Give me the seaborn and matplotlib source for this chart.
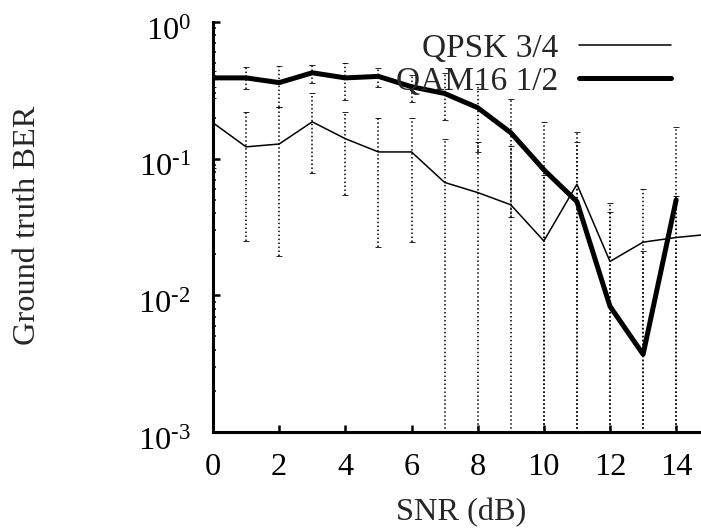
import numpy as np
import pandas as pd
import matplotlib
matplotlib.use("Agg")
import matplotlib.pyplot as plt
from matplotlib.ticker import LogLocator, FixedLocator, FuncFormatter, NullFormatter
from matplotlib.transforms import ScaledTranslation
import seaborn as sns

# ---- data ----
snr_qpsk = [0, 1, 2, 3, 4, 5, 6, 7, 8, 9, 10, 11, 12, 13, 14, 15]
ber_qpsk = [0.183, 0.122, 0.128, 0.186, 0.140, 0.112, 0.112, 0.067, 0.0565,
            0.046, 0.025, 0.065, 0.0177, 0.0245, 0.0265, 0.028]
hi_qpsk = [0.28, 0.22, 0.24, 0.303, 0.22, 0.199, 0.199, 0.14, 0.133,
           0.124, 0.076, 0.133, 0.041, 0.060, 0.053, 0.055]
lo_qpsk = [0.086, 0.025, 0.0193, 0.078, 0.0546, 0.0224, 0.0244, -0.006, -0.02,
           -0.032, -0.026, -0.003, -0.006, -0.011, 0.0, 0.001]

snr_qam = [0, 1, 2, 3, 4, 5, 6, 7, 8, 9, 10, 11, 12, 13, 14]
ber_qam = [0.39, 0.39, 0.36, 0.425, 0.39, 0.40, 0.336, 0.30, 0.236,
           0.155, 0.083, 0.0485, 0.0083, 0.0037, 0.050]
hi_qam = [0.439, 0.47, 0.477, 0.485, 0.502, 0.462, 0.41, 0.425, 0.353,
          0.274, 0.186, 0.157, 0.047, 0.021, 0.171]
lo_qam = [0.336, 0.324, 0.24, 0.359, 0.27, 0.336, 0.261, 0.193, 0.112,
          0.0377, -0.02, -0.06, -0.03, -0.014, -0.07]

labels = ["QPSK 3/4", "QAM16 1/2"]
xticks = [0, 2, 4, 6, 8, 10, 12, 14]
yticks = [1e-3, 1e-2, 1e-1, 1e0]

# ---- style ----
sns.set_theme(style="ticks")
plt.rcParams["font.family"] = ["Liberation Serif", "DejaVu Serif"]
plt.rcParams["mathtext.fontset"] = "custom"
plt.rcParams["mathtext.rm"] = "Liberation Serif"
plt.rcParams["mathtext.it"] = "Liberation Serif:italic"
plt.rcParams["mathtext.bf"] = "Liberation Serif:bold"
FS = 23.3
FS_LEG = 24

fig = plt.figure(figsize=(7.01, 5.31), dpi=100)
ax = fig.add_axes([213 / 701, 99 / 531, 488 / 701, 410 / 531])

df_qpsk = pd.DataFrame({"snr": snr_qpsk, "ber": ber_qpsk})
df_qam = pd.DataFrame({"snr": snr_qam, "ber": ber_qam})

# error bars (dotted)
for x, m, lo, hi in [(snr_qpsk, ber_qpsk, lo_qpsk, hi_qpsk),
                     (snr_qam, ber_qam, lo_qam, hi_qam)]:
    m = np.array(m)
    lo = np.clip(np.array(lo), 1e-6, None)
    hi = np.array(hi)
    eb = ax.errorbar(x, m, yerr=[m - lo, hi - m], fmt="none", ecolor="black",
                     elinewidth=1.1, capsize=2, capthick=0.6, zorder=2)
    for lc in eb[2]:
        lc.set_linestyle((0, (1, 1.6)))
    for cap in eb[1]:
        cap.set_color("#555555")

sns.lineplot(data=df_qpsk, x="snr", y="ber", color="black", linewidth=1.1,
             label=labels[0], ax=ax, zorder=3)
sns.lineplot(data=df_qam, x="snr", y="ber", color="black", linewidth=3.6,
             label=labels[1], ax=ax, zorder=4)

ax.set_yscale("log")
ax.set_ylim(1e-3, 1e0)
ax.set_xlim(0, 14.75)

ax.xaxis.set_major_locator(FixedLocator(xticks))
ax.set_xticklabels([str(t) for t in xticks])
ax.yaxis.set_major_locator(FixedLocator(yticks))
ax.yaxis.set_major_formatter(FuncFormatter(
    lambda v, p: r"$10^{\text{%d}}$" % int(round(np.log10(v)))))
ax.yaxis.set_minor_locator(LogLocator(base=10, subs=np.arange(2, 10)))
ax.yaxis.set_minor_formatter(NullFormatter())

ax.tick_params(axis="x", which="major", direction="in", length=5, width=1.8,
               labelsize=FS, pad=15, colors="black")
ax.tick_params(axis="y", which="major", direction="in", length=5, width=1.8,
               labelsize=FS, pad=16, colors="black")
ax.tick_params(axis="y", which="minor", direction="in", length=2.5, width=1.3)

# gnuplot-like placement: y tick labels sit slightly below their ticks
shift = ScaledTranslation(0, -6 / 100, fig.dpi_scale_trans)
for t in ax.yaxis.get_major_ticks():
    t.label1.set_transform(t.label1.get_transform() + shift)

for s in ["top", "right"]:
    ax.spines[s].set_visible(False)
for s in ["left", "bottom"]:
    ax.spines[s].set_linewidth(2.2)
    ax.spines[s].set_color("black")

ax.set_xlabel("SNR (dB)", fontsize=FS)
ax.set_ylabel("Ground truth BER", fontsize=FS)
ax.xaxis.set_label_coords(0.508, -0.16)
ax.yaxis.set_label_coords(-0.35, 0.505)

leg = ax.legend(loc="upper right", bbox_to_anchor=(671 / 701, 498 / 531),
                bbox_transform=fig.transFigure, frameon=False, fontsize=FS_LEG,
                markerfirst=False, handlelength=2.76, handletextpad=0.63,
                borderpad=0, borderaxespad=0, labelspacing=0.08)

fig.savefig("out.png", dpi=100)
